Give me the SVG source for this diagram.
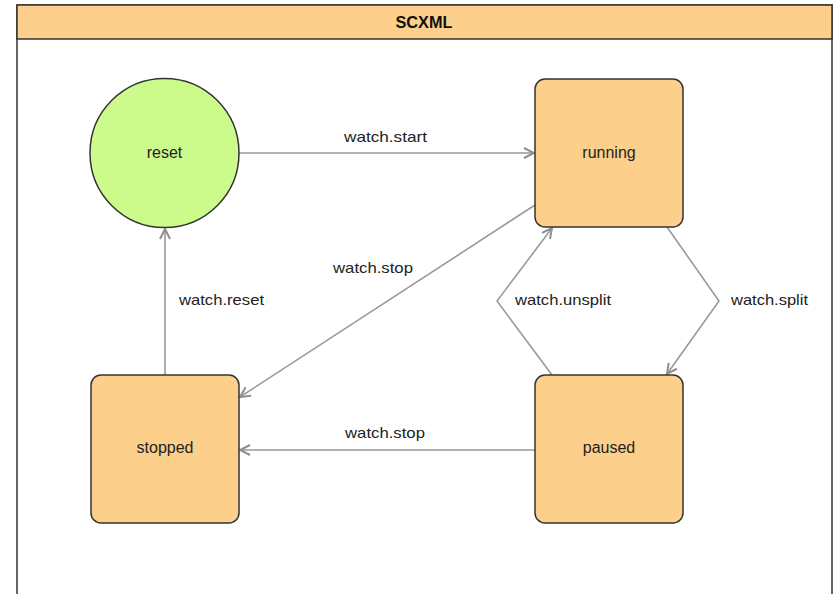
<svg xmlns="http://www.w3.org/2000/svg" width="833" height="594" viewBox="0 0 833 594">
  <defs>
    <style>
      .frame { fill: #ffffff; stroke: #333333; stroke-width: 1.5; }
      .header { fill: #fccf8a; stroke: #333333; stroke-width: 1.5; }
      .title { font-family: "Liberation Sans", Arial, sans-serif; font-size: 16px; font-weight: bold; fill: #111111; text-anchor: middle; }
      .state { fill: #fccf8a; stroke: #333333; stroke-width: 1.5; }
      .initial { fill: #cdfb8b; stroke: #333333; stroke-width: 1.5; }
      .name { font-family: "Liberation Sans", Arial, sans-serif; font-size: 16px; fill: #222222; text-anchor: middle; }
      .edge { fill: none; stroke: #999999; stroke-width: 1.6; marker-end: url(#arrow); }
      .event { font-family: "Liberation Sans", Arial, sans-serif; font-size: 15px; fill: #222222; }
    </style>
    <marker id="arrow" markerUnits="userSpaceOnUse" markerWidth="14" markerHeight="14" viewBox="0 0 14 14" refX="12" refY="7" orient="auto">
      <path d="M2,2 L12,7 L2,12" fill="none" stroke="#8f8f8f" stroke-width="2"/>
    </marker>
  </defs>

  <!-- container with title bar -->
  <g id="scxml">
    <rect class="frame" x="17" y="5" width="815" height="600"/>
    <rect class="header" x="17" y="5" width="815" height="34"/>
    <text class="title" x="424" y="28" textLength="57" lengthAdjust="spacingAndGlyphs">SCXML</text>
  </g>

  <!-- transitions -->
  <g id="connectors">
    <path class="edge" d="M239,153 H534"/>
    <path class="edge" d="M535,205 L240,397"/>
    <path class="edge" d="M165,375 V229"/>
    <path class="edge" d="M667,227 L719,301 L667,374"/>
    <path class="edge" d="M552,375 L497,301 L552,228"/>
    <path class="edge" d="M535,450 H240"/>
    <text class="event" x="344" y="142" textLength="83" lengthAdjust="spacingAndGlyphs">watch.start</text>
    <text class="event" x="333" y="273" textLength="80" lengthAdjust="spacingAndGlyphs">watch.stop</text>
    <text class="event" x="179" y="305" textLength="85" lengthAdjust="spacingAndGlyphs">watch.reset</text>
    <text class="event" x="515" y="305" textLength="96" lengthAdjust="spacingAndGlyphs">watch.unsplit</text>
    <text class="event" x="731" y="305" textLength="77" lengthAdjust="spacingAndGlyphs">watch.split</text>
    <text class="event" x="345" y="438" textLength="80" lengthAdjust="spacingAndGlyphs">watch.stop</text>
  </g>

  <!-- states -->
  <g id="reset">
    <circle class="initial" cx="164.5" cy="153" r="74.5"/>
    <text class="name" x="164.5" y="158">reset</text>
  </g>
  <g id="running">
    <rect class="state" x="535" y="79" width="148" height="148" rx="10"/>
    <text class="name" x="609" y="158">running</text>
  </g>
  <g id="stopped">
    <rect class="state" x="91" y="375" width="148" height="148" rx="10"/>
    <text class="name" x="165" y="453">stopped</text>
  </g>
  <g id="paused">
    <rect class="state" x="535" y="375" width="148" height="148" rx="10"/>
    <text class="name" x="609" y="453">paused</text>
  </g>
</svg>
